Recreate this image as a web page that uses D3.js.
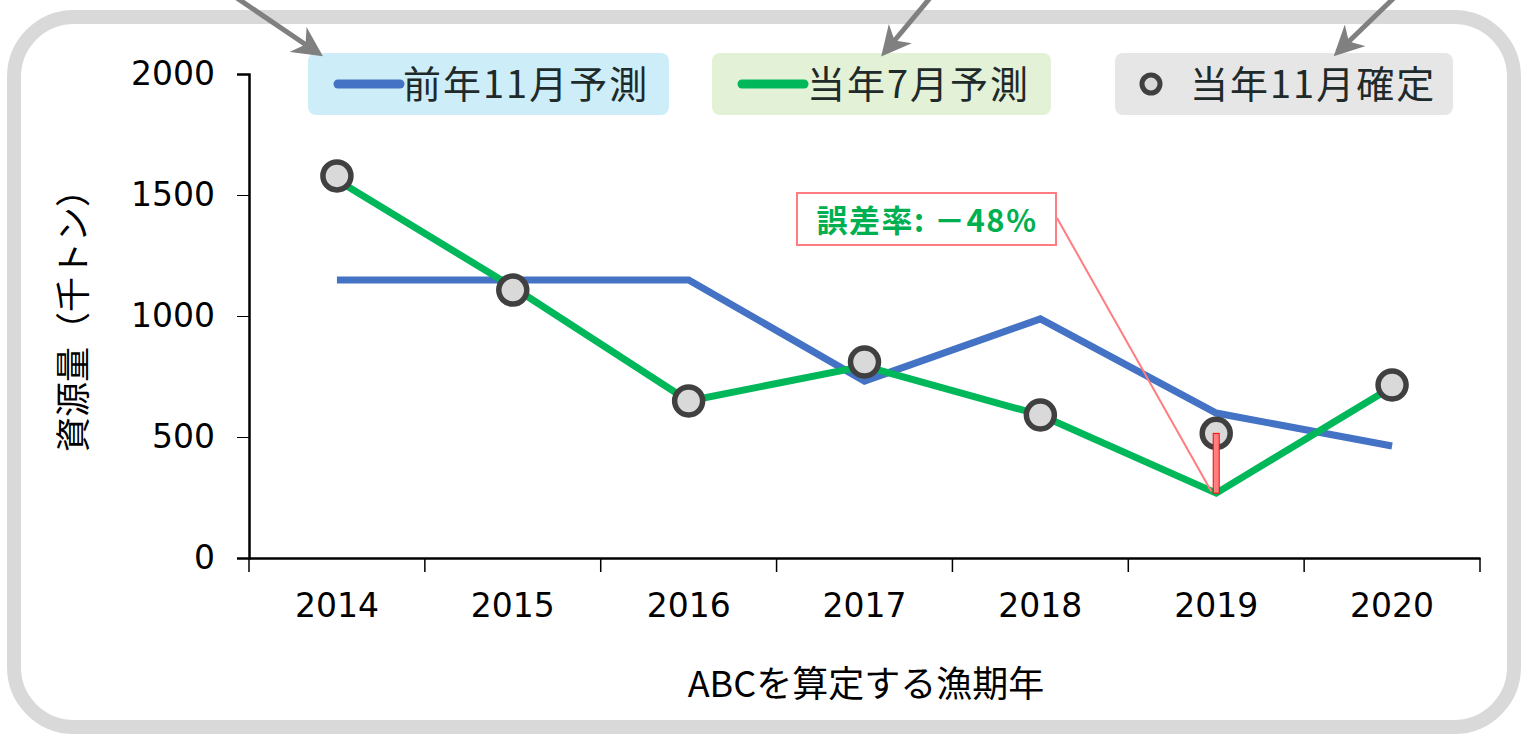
<!DOCTYPE html>
<html>
<head>
<meta charset="utf-8">
<script src="https://cdn.jsdelivr.net/npm/d3@7"></script>
<style>
  body { margin: 0; background: #fff; }
  text { font-family: "DejaVu Sans", "Noto Sans CJK JP", sans-serif; }
</style>
</head>
<body>
<div id="chart"></div>
<script>
var width = 1528;
var height = 741;

var years = ["2014", "2015", "2016", "2017", "2018", "2019", "2020"];
var prevNov = [1149, 1149, 1149, 731, 988, 599, 463];   // 前年11月予測
var curJul = [1562, 1120, 649, 793, 591, 268, 707];     // 当年7月予測
var curNov = [1579, 1107, 649, 810, 591, 515, 715];     // 当年11月確定
var yTicks = [0, 500, 1000, 1500, 2000];
var errorYear = "2019";
var errorLabel = "誤差率: －48%";

var blue = "#4472c4";
var green = "#00b85a";

var svg = d3.select("#chart").append("svg")
    .attr("width", width)
    .attr("height", height);

// outer frame
svg.append("rect")
    .attr("x", 14).attr("y", 17)
    .attr("width", 1500).attr("height", 710)
    .attr("rx", 60).attr("ry", 60)
    .style("fill", "#fff")
    .style("stroke", "#d9d9d9")
    .style("stroke-width", 14);

var x = d3.scaleBand()
    .domain(years)
    .range([249, 1480]);

var y = d3.scaleLinear()
    .domain([0, 2000])
    .range([558, 74]);

// axes
var yAxis = svg.append("g")
    .attr("transform", "translate(249,0)")
    .call(d3.axisLeft(y).tickValues(yTicks).tickFormat(d3.format("d")).tickSize(12).tickPadding(22));
yAxis.selectAll("text").style("font-size", "33px").style("fill", "#000");

var xAxis = svg.append("g")
    .attr("transform", "translate(0,558)")
    .call(d3.axisBottom(x).tickSize(0).tickPadding(36));
xAxis.selectAll("text").style("font-size", "33px").style("fill", "#000");
xAxis.selectAll(".tick line").remove();

// x ticks at band edges
var edges = years.map(function(d) { return x(d); }).concat([x.range()[1]]);
svg.append("g").selectAll("line")
    .data(edges)
    .enter().append("line")
    .attr("x1", function(d) { return d; })
    .attr("x2", function(d) { return d; })
    .attr("y1", 558)
    .attr("y2", 572)
    .style("stroke", "#000")
    .style("stroke-width", 1.5);

svg.selectAll(".domain").style("stroke", "#000").style("stroke-width", 2.5);

// axis titles
svg.append("text")
    .attr("transform", "translate(86,312) rotate(-90)")
    .attr("text-anchor", "middle")
    .style("font-family", "'Noto Sans CJK JP', sans-serif")
    .style("font-size", "35px")
    .text("資源量（千トン）");

svg.append("text")
    .attr("x", 866)
    .attr("y", 697)
    .attr("text-anchor", "middle")
    .style("font-family", "'Noto Sans CJK JP', sans-serif")
    .style("font-size", "36px")
    .text("ABCを算定する漁期年");

var cx = function(i) { return x(years[i]) + x.bandwidth() / 2; };

var line = d3.line()
    .x(function(d, i) { return cx(i); })
    .y(function(d) { return y(d); });

svg.append("path")
    .datum(prevNov)
    .attr("d", line)
    .style("fill", "none")
    .style("stroke", blue)
    .style("stroke-width", 7);

svg.append("path")
    .datum(curJul)
    .attr("d", line)
    .style("fill", "none")
    .style("stroke", green)
    .style("stroke-width", 7);

// annotation line + error bar
var ei = years.indexOf(errorYear);
svg.append("line")
    .attr("x1", 1057).attr("y1", 218)
    .attr("x2", cx(ei) - 5).attr("y2", y(curJul[ei]) - 2)
    .style("stroke", "#ff7c80")
    .style("stroke-width", 2);

svg.selectAll(".obs")
    .data(curNov)
    .enter().append("circle")
    .attr("class", "obs")
    .attr("cx", function(d, i) { return cx(i); })
    .attr("cy", function(d) { return y(d); })
    .attr("r", 14)
    .style("fill", "#d9d9d9")
    .style("stroke", "#404040")
    .style("stroke-width", 5.5);

svg.append("rect")
    .attr("x", cx(ei) - 3)
    .attr("y", y(curNov[ei]))
    .attr("width", 6)
    .attr("height", y(curJul[ei]) - y(curNov[ei]))
    .style("fill", "#ff8080")
    .style("stroke", "#ff0000")
    .style("stroke-width", 1);

// annotation box
svg.append("rect")
    .attr("x", 797).attr("y", 193)
    .attr("width", 259).attr("height", 52)
    .style("fill", "#fff")
    .style("stroke", "#ff7c80")
    .style("stroke-width", 2);
svg.append("text")
    .attr("x", 927).attr("y", 232)
    .attr("text-anchor", "middle")
    .style("font-family", "'Noto Sans CJK JP', sans-serif")
    .style("font-weight", "bold")
    .style("font-size", "31px")
    .style("letter-spacing", "1.5px")
    .style("fill", "#00b050")
    .text(errorLabel);

// legend
var legendData = [
    { label: "前年11月予測", bg: "#cdeef9", x: 308, w: 361, kind: "line", color: blue },
    { label: "当年7月予測", bg: "#e3f2d6", x: 712, w: 339, kind: "line", color: green },
    { label: "当年11月確定", bg: "#e6e6e6", x: 1115, w: 338, kind: "dot", color: "#404040" }
];

var lg = svg.selectAll(".leg")
    .data(legendData)
    .enter().append("g")
    .attr("class", "leg")
    .attr("transform", function(d) { return "translate(" + d.x + ",53)"; });

lg.append("rect")
    .attr("width", function(d) { return d.w; })
    .attr("height", 62)
    .attr("rx", 8)
    .style("fill", function(d) { return d.bg; });

lg.filter(function(d) { return d.kind === "line"; })
    .append("line")
    .attr("x1", 30).attr("x2", 92)
    .attr("y1", 31).attr("y2", 31)
    .style("stroke", function(d) { return d.color; })
    .style("stroke-width", 9)
    .style("stroke-linecap", "round");

lg.filter(function(d) { return d.kind === "dot"; })
    .append("circle")
    .attr("cx", 36).attr("cy", 31).attr("r", 9)
    .style("fill", "#d9d9d9")
    .style("stroke", "#404040")
    .style("stroke-width", 5);

lg.append("text")
    .attr("x", function(d) { return d.kind === "line" ? 95 : 75; })
    .attr("y", 45)
    .style("font-family", "'Noto Sans CJK JP', sans-serif")
    .style("font-size", "38px")
    .style("letter-spacing", "2px")
    .style("fill", "#1f2a2a")
    .text(function(d) { return d.label; });

// arrows from above
var arrows = [
    { from: [228, -8], to: [318, 53] },
    { from: [935, -8], to: [885, 52] },
    { from: [1400, -8], to: [1338, 52] }
];

svg.append("defs").append("marker")
    .attr("id", "head")
    .attr("viewBox", "0 0 10 10")
    .attr("refX", 8).attr("refY", 5)
    .attr("markerWidth", 6).attr("markerHeight", 6)
    .attr("orient", "auto")
    .attr("markerUnits", "strokeWidth")
    .append("path")
    .attr("d", "M0,0 L10,5 L0,10 L3,5 Z")
    .style("fill", "#808080");

svg.selectAll(".arrow")
    .data(arrows)
    .enter().append("line")
    .attr("class", "arrow")
    .attr("x1", function(d) { return d.from[0]; })
    .attr("y1", function(d) { return d.from[1]; })
    .attr("x2", function(d) { return d.to[0]; })
    .attr("y2", function(d) { return d.to[1]; })
    .style("stroke", "#808080")
    .style("stroke-width", 5)
    .attr("marker-end", "url(#head)");
</script>
</body>
</html>
